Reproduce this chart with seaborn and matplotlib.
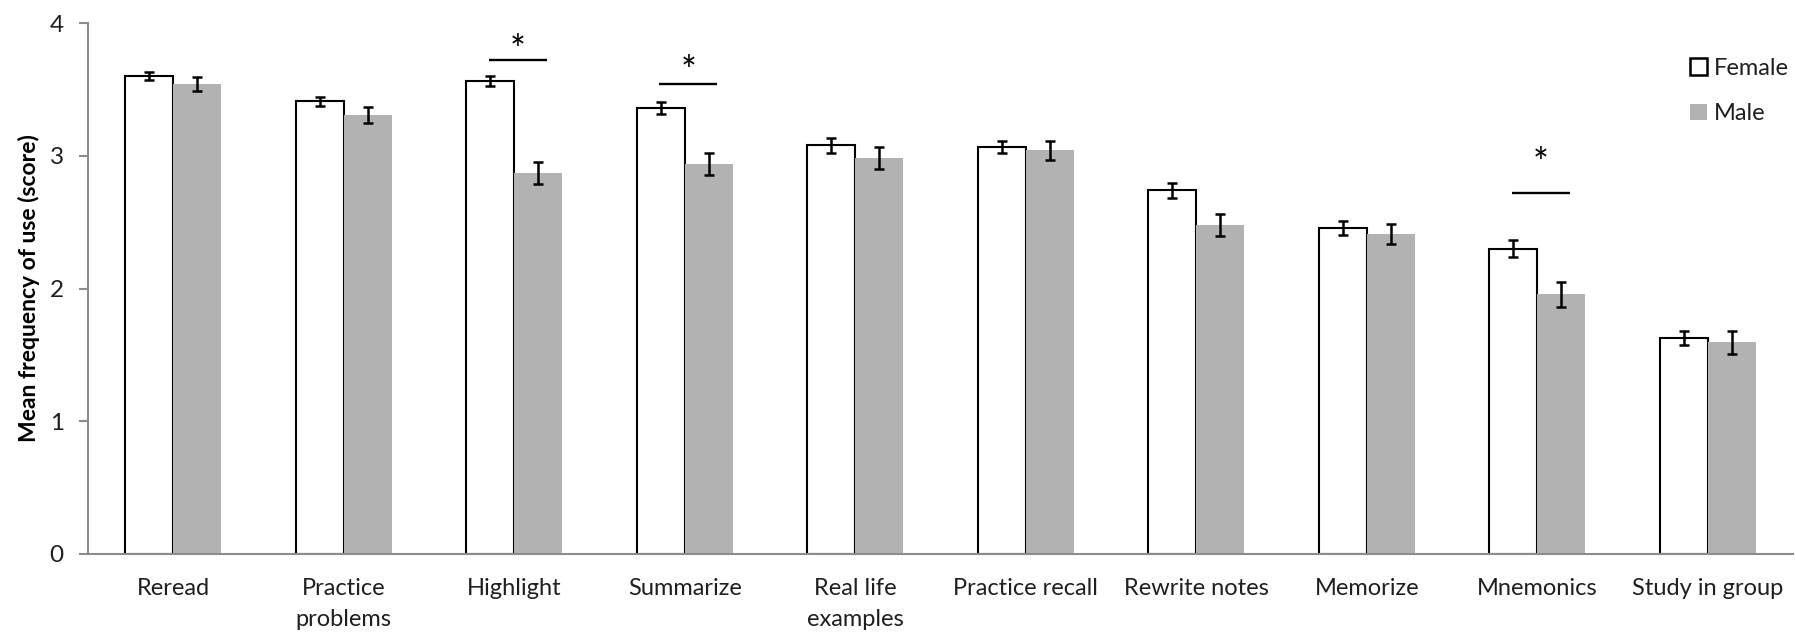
import matplotlib
matplotlib.use("Agg")
import matplotlib.pyplot as plt
from matplotlib.patches import Patch
import seaborn as sns
import pandas as pd


###--- Values:
strategies = ["Reread", "Practice\nproblems", "Highlight", "Summarize",
              "Real life\nexamples", "Practice recall", "Rewrite notes",
              "Memorize", "Mnemonics", "Study in group"]
female_mean = [3.60, 3.41, 3.56, 3.36, 3.08, 3.065, 2.74, 2.455, 2.30, 1.625]
male_mean = [3.54, 3.305, 2.87, 2.94, 2.985, 3.04, 2.48, 2.41, 1.955, 1.595]
female_err = [0.033, 0.033, 0.037, 0.048, 0.057, 0.045, 0.057, 0.054, 0.063, 0.054]
male_err = [0.05, 0.059, 0.084, 0.084, 0.084, 0.074, 0.084, 0.075, 0.093, 0.085]

###--- Significant pairs (category index, bar height of line, asterisk centre):
sig_idx = [2, 3, 8]
sig_line = [3.72, 3.54, 2.72]
sig_star = [3.84, 3.68, 2.99]

genders = ["Female", "Male"]
yticks = [0, 1, 2, 3, 4]

###--- Long table for seaborn:
df = pd.DataFrame({
    "strategy": strategies * 2,
    "score": female_mean + male_mean,
    "gender": ["Female"] * len(strategies) + ["Male"] * len(strategies),
})

plt.rcParams["font.family"] = ["Lato", "DejaVu Sans"]
GRAY = "#b2b2b2"
AXIS = "#8c8c8c"
TXT = "#1f1f1f"

W, H = 1795, 635
fig = plt.figure(figsize=(W / 100, H / 100), dpi=100)
ax = fig.add_axes([88 / W, 1 - 554 / H, 1705 / W, 531 / H])

sns.barplot(data=df, x="strategy", y="score", hue="gender", hue_order=genders,
            palette={"Female": "white", "Male": GRAY}, saturation=1,
            width=0.565, errorbar=None, legend=False, ax=ax)

###--- Style bars and add the error bars:
errs = {"Female": female_err, "Male": male_err}
means = {"Female": female_mean, "Male": male_mean}
for g, cont in zip(genders, ax.containers):
    xs = []
    for bar in cont:
        if g == "Female":
            bar.set_edgecolor("black")
            bar.set_linewidth(1.5)
        else:
            bar.set_edgecolor("none")
            bar.set_linewidth(0)
        xs.append(bar.get_x() + bar.get_width() / 2)
    ax.errorbar(xs, means[g], yerr=errs[g], fmt="none", ecolor="black",
                elinewidth=1.8, capsize=3.4, capthick=1.8, zorder=5)

###--- Significance lines and asterisks:
for i, yl, ys in zip(sig_idx, sig_line, sig_star):
    ax.plot([i - 0.15, i + 0.19], [yl, yl], color="black", lw=1.7,
            solid_capstyle="butt")
    ax.text(i + 0.02, ys - 0.14, "*", ha="center", va="baseline",
            fontsize=27, color="black")

###--- Axes:
ax.set_xlim(-0.5, len(strategies) - 0.5)
ax.set_ylim(0, 4)
ax.set_yticks(yticks)
ax.set_xlabel("")
ax.set_ylabel("Mean frequency of use (score)", fontsize=16.5,
              fontweight="bold", color="black")
ax.yaxis.set_label_coords((40 - 88) / 1705, 0.5)
for s in ["top", "right"]:
    ax.spines[s].set_visible(False)
for s in ["left", "bottom"]:
    ax.spines[s].set_color(AXIS)
    ax.spines[s].set_linewidth(1.5)
ax.tick_params(axis="y", length=6.5, width=1.5, color=AXIS, pad=11,
               labelsize=17.5, labelcolor=TXT)
ax.tick_params(axis="x", length=0, pad=17, labelsize=17, labelcolor=TXT)
for lab in ax.get_xticklabels():
    lab.set_linespacing(1.6)
    lab.set_verticalalignment("top")

###--- Legend:
handles = [Patch(facecolor="white", edgecolor="black", linewidth=1.8),
           Patch(facecolor=GRAY, edgecolor="none")]
ax.legend(handles, genders, loc="upper left", bbox_to_anchor=(1690 / W, 1 - 58 / H),
          bbox_transform=fig.transFigure, frameon=False, fontsize=17,
          handlelength=0.72, handleheight=0.72, handletextpad=0.3,
          labelspacing=1.03, borderpad=0, borderaxespad=0)
for t in ax.get_legend().get_texts():
    t.set_color(TXT)

fig.savefig("out.png", dpi=100)
